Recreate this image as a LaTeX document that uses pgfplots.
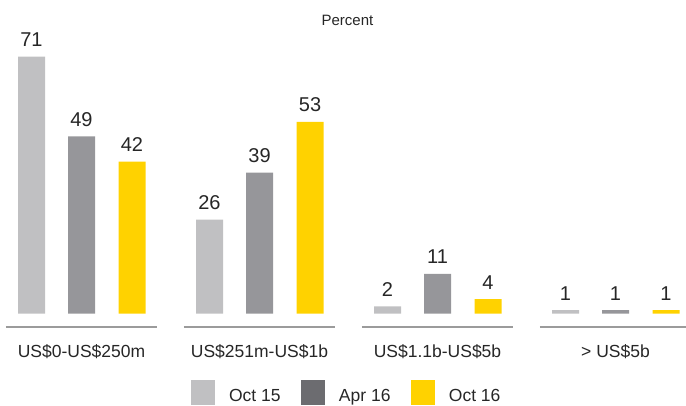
\documentclass[border=0pt]{standalone}
\usepackage{pgfplots}
\pgfplotsset{compat=1.18}
\usepackage{fontspec}
\setmainfont{Liberation Sans}
\definecolor{lightgr}{HTML}{C0C0C2}
\definecolor{midgr}{HTML}{96969A}
\definecolor{darkgr}{HTML}{6C6C70}
\definecolor{eyyellow}{HTML}{FFD200}
\definecolor{sepgr}{HTML}{9B9B9B}
\definecolor{txt}{HTML}{262626}
\begin{document}
\begin{tikzpicture}
\useasboundingbox (0,-92.3bp) rectangle (686bp,313.7bp);
\begin{axis}[
  at={(0,0)}, anchor=south west, scale only axis,
  width=686bp, height=313.7bp,
  xmin=-0.45787, xmax=3.39607, ymin=0, ymax=86.657,
  clip=false,
  ybar, bar width=27bp,
  axis x line*=bottom, axis y line=none,
  x axis line style={draw=none},
  xtick={0,1,2,3},
  xticklabels={US\$0-US\$250m, US\$251m-US\$1b, US\$1.1b-US\$5b, > US\$5b},
  xtick style={draw=none}, major tick length=0pt,
  ytick=\empty,
  xticklabel style={font=\fontsize{17.5bp}{20bp}\selectfont, text=txt, anchor=base, inner sep=0pt, yshift=-43.6bp},
  nodes near coords,
  every node near coord/.append style={font=\fontsize{20bp}{24bp}\selectfont, text=txt, anchor=base, inner sep=0pt, yshift=10bp},
  /pgf/number format/assume math mode=true,
  legend columns=3,
  legend style={at={(axis cs:0.6152,-21.9)}, anchor=west, draw=none, fill=none,
    inner sep=0pt, outer sep=0pt,
    nodes={inner sep=0pt, text depth=0pt, font=\fontsize{17.5bp}{20bp}\selectfont, text=txt},
    cells={anchor=base west},
    /tikz/every even column/.append style={column sep=20.4bp}},
]
\addplot[fill=lightgr, draw=none, bar shift=-50bp,
  legend image code/.code={\fill[lightgr] (0bp,-4bp) rectangle (24bp,21bp); \path (38bp,0bp);}]
  coordinates {(0,71) (1,26) (2,2) (3,1)};
\addplot[fill=midgr, draw=none, bar shift=0bp,
  legend image code/.code={\fill[darkgr] (0bp,-4bp) rectangle (24bp,21bp); \path (38bp,0bp);}]
  coordinates {(0,49) (1,39) (2,11) (3,1)};
\addplot[fill=eyyellow, draw=none, bar shift=50.5bp,
  legend image code/.code={\fill[eyyellow] (0bp,-4bp) rectangle (24bp,21bp); \path (38bp,0bp);}]
  coordinates {(0,42) (1,53) (2,4) (3,1)};
\legend{Oct 15, Apr 16, Oct 16}
\draw[sepgr, line width=2bp] (axis cs:-0.4242,-3.67) -- (axis cs:0.4242,-3.67);
\draw[sepgr, line width=2bp] (axis cs:0.5758,-3.67) -- (axis cs:1.4242,-3.67);
\draw[sepgr, line width=2bp] (axis cs:1.5758,-3.67) -- (axis cs:2.4242,-3.67);
\draw[sepgr, line width=2bp] (axis cs:2.5758,-3.67) -- (axis cs:3.4242,-3.67);
\node[font=\fontsize{15bp}{18bp}\selectfont, text=txt, anchor=base] at (axis cs:1.494,79.75) {Percent};
\end{axis}
\end{tikzpicture}
\end{document}
